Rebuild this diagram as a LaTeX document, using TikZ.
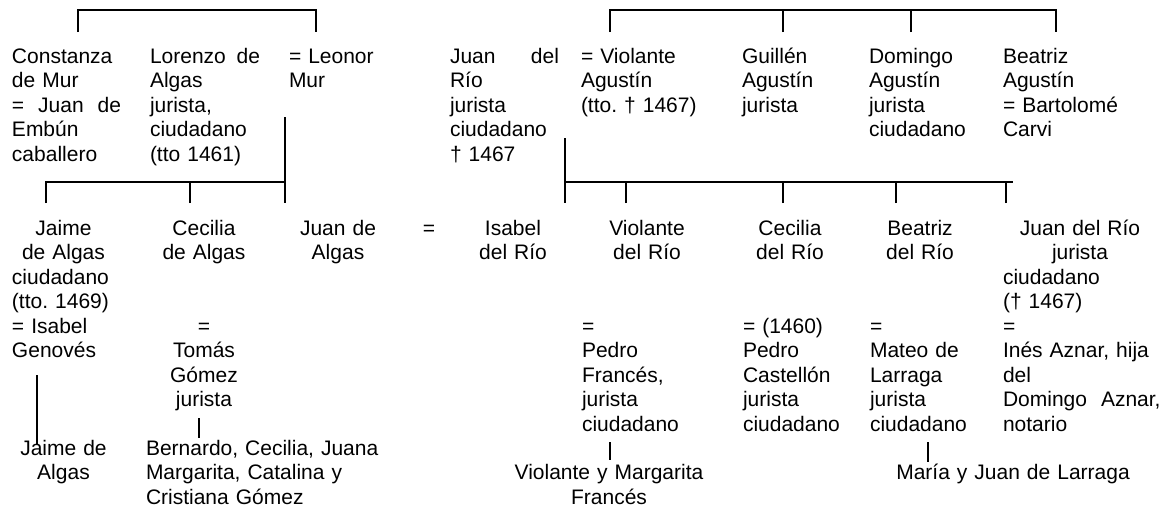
\documentclass[tikz,border=0pt]{standalone}
\usepackage{fontspec}
\setmainfont{Liberation Sans}
\newcommand\ctrln[1]{\hspace*{\fill}#1\hspace*{\fill}\null}
\hyphenpenalty=10000
\exhyphenpenalty=10000
\frenchspacing
\tikzset{
  txt/.style={inner sep=0pt, outer sep=0pt, font=\fontsize{21}{24.5}\selectfont\frenchspacing, align=left, anchor=base west, text width=160pt},
  ctxt/.style={txt, align=center, anchor=base},
  ln/.style={line width=1.8pt},
  thinln/.style={line width=1.3pt},
}
\begin{document}
\begin{tikzpicture}[x=1pt,y=-1pt]
\useasboundingbox (0,0) rectangle (1165,509);
% ---------- generation 1 ----------
\node[txt, text width=109pt] (constanza) at (12,63) {Constanza\\de Mur\\=\hfill Juan\hfill de\\Embún\\caballero};
\node[txt, text width=110pt] (lorenzo) at (150,63) {Lorenzo\hfill de\\Algas\\jurista,\\ciudadano\\(tto 1461)};
\node[txt] (leonor) at (289,63) {= Leonor\\Mur};
\node[txt, text width=109pt] (juanrio) at (450,63) {Juan\hfill del\\Río\\jurista\\ciudadano\\† 1467};
\node[txt] (violanteag) at (581,63) {= Violante\\Agustín\\(tto. † 1467)};
\node[txt] (guillen) at (742,63) {Guillén\\Agustín\\jurista};
\node[txt] (domingo) at (869,63) {Domingo\\Agustín\\jurista\\ciudadano};
\node[txt] (beatrizag) at (1003,63) {Beatriz\\Agustín\\= Bartolomé\\Carvi};
% ---------- generation 2 ----------
\node[txt, text width=103pt] (jaime) at (12,235) {\ctrln{Jaime}\\\ctrln{de Algas}\\ciudadano\\(tto. 1469)\\= Isabel\\Genovés};
\node[ctxt, text width=120pt] (ceciliaal) at (204,235) {Cecilia\\de Algas};
\node[ctxt, text width=120pt] (tomas) at (204,333) {=\\Tomás\\Gómez\\jurista};
\node[ctxt, text width=120pt] (juanal) at (338,235) {Juan de\\Algas};
\node[ctxt, text width=30pt] (eq) at (429,235) {=};
\node[ctxt, text width=120pt] (isabel) at (513,235) {Isabel\\del Río};
\node[ctxt, text width=120pt] (violanterio) at (647,235) {Violante\\del Río};
\node[txt] (pedrof) at (582,333) {=\\Pedro\\Francés,\\jurista\\ciudadano};
\node[ctxt, text width=120pt] (ceciliario) at (790,235) {Cecilia\\del Río};
\node[txt] (pedroc) at (743,333) {= (1460)\\Pedro\\Castellón\\jurista\\ciudadano};
\node[ctxt, text width=120pt] (beatrizrio) at (920,235) {Beatriz\\del Río};
\node[txt] (mateo) at (870,333) {=\\Mateo de\\Larraga\\jurista\\ciudadano};
\node[txt, text width=154pt] (juanriojr) at (1003,235) {\ctrln{Juan del Río}\\\ctrln{jurista}\\ciudadano\\(† 1467)\\=\\Inés Aznar, hija\\del\\\mbox{Domingo\ \ Aznar,}\\notario};
% ---------- generation 3 ----------
\node[ctxt, text width=100pt] (jaimejr) at (63.5,455) {Jaime de\\Algas};
\node[txt, text width=260pt] (bernardo) at (146,455) {Bernardo, Cecilia, Juana\\Margarita, Catalina y\\Cristiana Gómez};
\node[ctxt, text width=220pt] (violantey) at (609,479.5) {Violante y Margarita\\Francés};
\node[ctxt, text width=260pt] (maria) at (1013,479.5) {María y Juan de Larraga};
% ---------- connector points ----------
\coordinate (cL) at (78,32);
\coordinate (cR) at (316,32);
\coordinate (lorTop) at (285,117);
\coordinate (lorBot) at (285,203);
\coordinate (kJaime) at (46,203);
\coordinate (kCec) at (190,203);
\coordinate (barL) at (286,182);
\coordinate (rioTop) at (565,138);
\coordinate (rioBot) at (565,203);
\coordinate (barR) at (1013,182);
\coordinate (kVio) at (626,203);
\coordinate (kCecR) at (783,203);
\coordinate (kBea) at (896,203);
\coordinate (kJuan) at (1006,203);
\coordinate (aV) at (610,32);
\coordinate (aG) at (783,32);
\coordinate (aD) at (911,32);
\coordinate (aB) at (1056,32);
\coordinate (j1) at (37,375);
\coordinate (j2) at (37,445);
\coordinate (t1) at (199,418);
\coordinate (t2) at (199,438);
\coordinate (p1) at (610,442);
\coordinate (p2) at (610,460);
\coordinate (m1) at (928,442);
\coordinate (m2) at (928,462);
% ---------- connectors ----------
\draw[ln] (cL) |- ([yshift=22pt]cR) -- (cR);
\draw[ln] (lorTop) -- (lorBot);
\draw[ln] (kJaime) |- (barL);
\draw[ln] (kCec) -- ++(0,-21);
\draw[ln] (rioTop) -- (rioBot);
\draw[ln] (rioBot |- barR) -- (barR);
\foreach \k in {kVio,kCecR,kBea,kJuan} \draw[ln] (\k) -- ++(0,-21);
\draw[ln] (aV) |- ([yshift=22pt]aB) -- (aB);
\foreach \k in {aG,aD} \draw[ln] (\k) -- ++(0,-22);
\draw[ln] (j1) -- (j2);
\draw[thinln] (t1) -- (t2);
\draw[thinln] (p1) -- (p2);
\draw[thinln] (m1) -- (m2);
\end{tikzpicture}
\end{document}
